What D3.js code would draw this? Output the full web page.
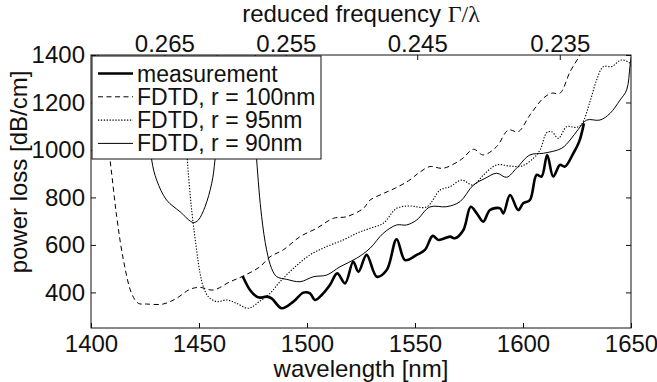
<!DOCTYPE html>
<html><head><meta charset="utf-8">
<script src="https://cdn.jsdelivr.net/npm/d3@7"></script>
<style>html,body{margin:0;padding:0;background:#fff;}svg{display:block;}</style>
</head><body>
<svg id="c" width="657" height="382"></svg>
<script>
// ---- data ----
const xTicks = [1400, 1450, 1500, 1550, 1600, 1650];
const yTicks = [400, 600, 800, 1000, 1200, 1400];
const freqTicks = [0.265, 0.255, 0.245, 0.235];
const freqLabels = ["0.265", "0.255", "0.245", "0.235"];
const latticeNm = 380;

const measWl = [1470.2, 1473.6, 1476.7, 1478.2, 1481.3, 1483.6, 1488.3, 1493.7, 1498.3, 1501.4, 1503.7, 1506.8, 1510.6, 1514, 1517.6, 1521.4, 1523.8, 1527.6, 1532.3, 1536.9, 1541.5, 1545.4, 1550.8, 1554.6, 1558.2, 1560.8, 1566.2, 1568.5, 1572.4, 1575.8, 1578.6, 1581.6, 1584.7, 1589.4, 1590.9, 1594, 1597.8, 1600.1, 1603.2, 1606.3, 1608.6, 1611.2, 1614, 1617.1, 1619.4, 1623.3, 1626, 1628.2];
const measLoss = [469, 410, 382, 378, 382, 375, 333, 361, 399, 396, 368, 389, 431, 480, 438, 529, 487, 558, 466, 494, 624, 536, 558, 579, 638, 621, 635, 628, 663, 761, 733, 698, 747, 754, 733, 810, 747, 775, 789, 895, 888, 979, 888, 937, 930, 986, 1035, 1112];

const r100Wl = [1403, 1405, 1408.8, 1411.9, 1415, 1418.8, 1421.9, 1425.7, 1433.4, 1439.6, 1445.8, 1450.5, 1456.6, 1464.4, 1470.5, 1478.2, 1482.9, 1489, 1496.8, 1504.5, 1512.2, 1518.4, 1526.1, 1529.2, 1535, 1541, 1547, 1552, 1556.9, 1563.1, 1571.6, 1577, 1581.6, 1587.8, 1593.2, 1597.8, 1603.2, 1609.4, 1613.3, 1617.1, 1621.8, 1626.4, 1629];
const r100Loss = [1450, 1200, 958, 719, 537, 396, 354, 351, 351, 375, 413, 421, 410, 445, 469, 508, 550, 579, 635, 670, 712, 719, 754, 789, 815, 840, 870, 905, 930, 923, 961, 1003, 979, 1014, 1084, 1077, 1147, 1218, 1239, 1239, 1330, 1400, 1450];

const r95Wl = [1442, 1443.5, 1444.6, 1446.6, 1448.9, 1450.5, 1452, 1454.3, 1458.2, 1462.8, 1467.4, 1472.8, 1478.2, 1482.9, 1487.5, 1493.7, 1501.4, 1509.1, 1516.8, 1523, 1529.2, 1535.3, 1541.5, 1547.7, 1555.4, 1561.6, 1566.2, 1571.6, 1577, 1581.6, 1587.8, 1594, 1599.4, 1604.8, 1607.9, 1611, 1613.3, 1616.4, 1620.2, 1624.8, 1627.2, 1631, 1634.1, 1637.2, 1641, 1645.6, 1649.5, 1650];
const r95Loss = [1450, 1150, 958, 747, 579, 480, 424, 382, 361, 368, 354, 333, 363, 396, 445, 501, 558, 593, 621, 649, 670, 691, 754, 764, 760, 831, 845, 873, 852, 894, 937, 932, 932, 965, 1000, 1073, 1077, 1049, 1098, 1095, 1109, 1203, 1295, 1351, 1351, 1379, 1365, 1350];

const r90Wl = [1426, 1428.1, 1430.4, 1435, 1441.2, 1447.4, 1449.7, 1452.8, 1455.9, 1457.4, 1459, 1460.5, 1474, 1475.5, 1476.7, 1479, 1481.3, 1483.6, 1486, 1490.6, 1496.8, 1503, 1509.1, 1515.3, 1523, 1529.2, 1535.3, 1541.5, 1546.1, 1550.8, 1556.9, 1564.7, 1570.8, 1577, 1582.4, 1587.8, 1592.4, 1597, 1603.2, 1609.4, 1617.9, 1621.8, 1625.6, 1629.5, 1635.6, 1640.3, 1644.9, 1648, 1649.5, 1650];
const r90Loss = [1200, 958, 873, 789, 740, 694, 705, 761, 860, 958, 1150, 1450, 1450, 1150, 958, 719, 579, 501, 466, 455, 445, 466, 473, 508, 544, 586, 649, 684, 684, 705, 760, 761, 782, 852, 880, 902, 885, 923, 979, 986, 1007, 1042, 1087, 1126, 1126, 1154, 1210, 1253, 1351, 1390];

const legendLabels = ["measurement", "FDTD, r = 100nm", "FDTD, r = 95nm", "FDTD, r = 90nm"];

// ---- layout ----
const L = 91, R = 631, T = 55, B = 328;
const FONT = "'Liberation Sans', Arial, Helvetica, sans-serif";
const ink = "#111";

const svg = d3.select("#c");
const x = d3.scaleLinear().domain([1400, 1650]).range([L, R]);
const y = d3.scaleLinear().domain([250, 1400]).range([B, T]);

svg.append("defs").append("clipPath").attr("id", "clip")
  .append("rect").attr("x", L).attr("y", T).attr("width", R - L).attr("height", B - T);

const series = [
  {wl: r100Wl, loss: r100Loss, w: 1, dash: "5,3.5"},
  {wl: r95Wl, loss: r95Loss, w: 1.1, dash: "1.3,1.6"},
  {wl: r90Wl, loss: r90Loss, w: 1, dash: null},
  {wl: measWl, loss: measLoss, w: 2.6, dash: null}
];
const line = d3.line().x(d => x(d[0])).y(d => y(d[1])).curve(d3.curveCatmullRom.alpha(0.5));
const g = svg.append("g").attr("clip-path", "url(#clip)");
series.forEach(s => {
  g.append("path").datum(s.wl.map((w, i) => [w, s.loss[i]]))
    .attr("d", line).attr("fill", "none").attr("stroke", "#000")
    .attr("stroke-width", s.w).attr("stroke-dasharray", s.dash)
    .attr("stroke-linejoin", "round");
});

// ---- axes ----
function styleAxis(sel) {
  sel.selectAll(".domain").remove();
  sel.selectAll(".tick line").attr("stroke", ink);
  sel.selectAll("text").attr("fill", ink).attr("font-family", FONT).attr("font-size", 24);
}
svg.append("g").attr("transform", `translate(0,${B})`)
  .call(d3.axisBottom(x).tickValues(xTicks).tickSize(-5).tickPadding(7).tickFormat(d3.format("d")))
  .call(styleAxis);
svg.append("g").attr("transform", `translate(${L},0)`)
  .call(d3.axisLeft(y).tickValues(yTicks).tickSize(-5).tickPadding(6).tickFormat(d3.format("d")))
  .call(styleAxis);
svg.append("g").attr("transform", `translate(${R},0)`)
  .call(d3.axisRight(y).tickValues(yTicks).tickSize(-5).tickFormat(""))
  .call(styleAxis);
svg.append("g").attr("transform", `translate(0,${T})`)
  .call(d3.axisTop(x).tickValues(freqTicks.map(f => latticeNm / f)).tickSize(-5).tickPadding(3)
    .tickFormat((d, i) => freqLabels[i]))
  .call(styleAxis);

svg.append("rect").attr("x", L).attr("y", T).attr("width", R - L).attr("height", B - T)
  .attr("fill", "none").attr("stroke", ink).attr("stroke-width", 1);

// ---- labels ----
svg.append("text").attr("x", (L + R) / 2).attr("y", 377).attr("text-anchor", "middle")
  .attr("font-family", FONT).attr("font-size", 24).attr("fill", ink).text("wavelength [nm]");
svg.append("text").attr("transform", "translate(27,172) rotate(-90)").attr("text-anchor", "middle")
  .attr("font-family", FONT).attr("font-size", 24).attr("fill", ink).text("power loss [dB/cm]");
const title = svg.append("text").attr("x", (L + R) / 2).attr("y", 22).attr("text-anchor", "middle")
  .attr("font-family", FONT).attr("font-size", 24).attr("fill", ink);
title.append("tspan").text("reduced frequency ");
title.append("tspan").attr("font-family", "'Liberation Serif', 'Times New Roman', serif").text("Γ/λ");

// ---- legend ----
const lg = svg.append("g");
lg.append("rect").attr("x", 92).attr("y", 56).attr("width", 229).attr("height", 103)
  .attr("fill", "#fff").attr("stroke", ink).attr("stroke-width", 1);
const legendStyle = [series[3], series[0], series[1], series[2]];
legendLabels.forEach((lab, i) => {
  const cy = 73.5 + i * 23.3;
  lg.append("line").attr("x1", 98).attr("x2", 133).attr("y1", cy).attr("y2", cy)
    .attr("stroke", "#000").attr("stroke-width", legendStyle[i].w)
    .attr("stroke-dasharray", legendStyle[i].dash);
  lg.append("text").attr("x", 137).attr("y", cy + 8).attr("font-family", FONT)
    .attr("font-size", 23).attr("fill", ink).text(lab);
});
</script>
</body></html>
